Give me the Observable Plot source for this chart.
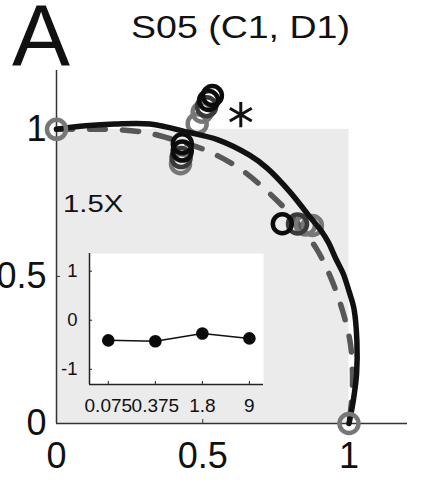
<!DOCTYPE html>
<html>
<head>
<meta charset="utf-8">
<script src="https://cdn.jsdelivr.net/npm/d3@7"></script>
<script src="https://cdn.jsdelivr.net/npm/@observablehq/plot@0.6"></script>
<style>
  html, body { margin: 0; padding: 0; background: white; }
  #wrap { position: relative; width: 444px; height: 487px; overflow: hidden; font-family: "Liberation Sans", Arial, Helvetica, sans-serif; color: #111; }
  #main { position: absolute; left: 0; top: 0; }
  #inset { position: absolute; left: 60px; top: 240px; }
  .lbl { position: absolute; line-height: 1; white-space: nowrap; transform-origin: 0 0; }
</style>
</head>
<body>
<div id="wrap">
  <div id="main"></div>
  <div id="inset"></div>
  <div class="lbl" id="panel" style="left:12px; top:-8px; font-size:87px;">A</div>
  <div class="lbl" id="title" style="left:131px; top:12px; font-size:31px; transform:scaleX(1.21);">S05 (C1, D1)</div>
  <div class="lbl" id="mult" style="left:63px; top:191.5px; font-size:24px; transform:scaleX(1.22);">1.5X</div>
</div>
<script>
// ---- data ----
const solidX = [0, 0.1, 0.2, 0.32, 0.45, 0.55, 0.66, 0.72, 0.80, 0.86, 0.905, 0.93, 0.955, 0.98, 1.0, 1.017, 1.027, 1.026, 1.015, 1.0];
const solidY = [1, 1.012, 1.018, 1.018, 0.99, 0.965, 0.912, 0.868, 0.785, 0.71, 0.655, 0.615, 0.56, 0.51, 0.45, 0.39, 0.28, 0.17, 0.08, 0];
const dashX = [0, 0.1, 0.18, 0.3, 0.4, 0.52, 0.63, 0.72, 0.8, 0.887, 0.938, 0.978, 1.005, 1.012, 1.008, 1.0];
const dashY = [1, 1.0, 1.0, 0.99, 0.965, 0.925, 0.864, 0.79, 0.71, 0.597, 0.495, 0.383, 0.27, 0.15, 0.07, 0];
const blackX = [0.533, 0.520, 0.430, 0.430, 0.772];
const blackY = [1.115, 1.098, 0.951, 0.926, 0.679];
const darkX = [0.513, 0.426, 0.824];
const darkY = [1.077, 0.904, 0.678];
const grayX = [0.498, 0.481, 0.424, 0.851, 0.875];
const grayY = [1.058, 1.019, 0.883, 0.675, 0.673];
const endX = [0, 1];
const endY = [1, 0];
const starX = [0.63];
const starY = [1.05];
const regionX = [0, 1];
const regionY = [0, 1];
const mainTicks = [0, 0.5, 1];
const mainDomain = [0, 1.2];

const doses = ["0.075", "0.375", "1.8", "9"];
const doseValues = [-0.41, -0.43, -0.27, -0.37];
const insetTicks = [-1, 0, 1];
const insetYDomain = [-1.31, 1.36];
const insetXDomain = [0.6, 4.3];

// ---- tables built from the arrays ----
const pts = (xs, ys) => xs.map((x, i) => ({x, y: ys[i]}));
const solid = pts(solidX, solidY);
const dash = pts(dashX, dashY);
const blackPts = pts(blackX, blackY);
const darkPts = pts(darkX, darkY);
const grayPts = pts(grayX, grayY);
const endPts = pts(endX, endY);
const star = pts(starX, starY);
const region = [{x1: regionX[0], x2: regionX[1], y1: regionY[0], y2: regionY[1]}];
const doseData = doses.map((d, i) => ({i: i + 1, dose: d, v: doseValues[i]}));

const FONT = '"Liberation Sans", Arial, Helvetica, sans-serif';
const ringR = 9.5, ringW = 4.5;

const main = Plot.plot({
  width: 444, height: 487,
  marginLeft: 56, marginRight: 37, marginTop: 70, marginBottom: 64,
  x: {domain: mainDomain, axis: null},
  y: {domain: mainDomain, axis: null},
  style: {background: "transparent", fontFamily: FONT, color: "#111"},
  marks: [
    Plot.rect(region, {x1: "x1", x2: "x2", y1: "y1", y2: "y2", fill: "#ebebeb"}),
    Plot.ruleX([mainDomain[0]], {y1: mainDomain[0], y2: mainDomain[1], stroke: "#333", strokeWidth: 1.5}),
    Plot.ruleY([mainDomain[0]], {x1: mainDomain[0], x2: mainDomain[1], stroke: "#333", strokeWidth: 1.5}),
    Plot.axisX({ticks: mainTicks, label: null, tickSize: -4, tickPadding: 23, fontSize: 36, stroke: "#333", fill: "#111", tickFormat: d => String(d)}),
    Plot.axisY({ticks: mainTicks, label: null, tickSize: -4, tickPadding: 14, fontSize: 36, stroke: "#333", fill: "#111", tickFormat: d => String(d)}),
    Plot.line(dash, {x: "x", y: "y", curve: "catmull-rom", stroke: "#575757", strokeWidth: 5.5, strokeDasharray: "16,17"}),
    Plot.dot(grayPts, {x: "x", y: "y", r: ringR, stroke: "#777", strokeWidth: ringW}),
    Plot.dot(darkPts, {x: "x", y: "y", r: ringR, stroke: "#3a3a3a", strokeWidth: ringW}),
    Plot.dot(blackPts, {x: "x", y: "y", r: ringR, stroke: "#0c0c0c", strokeWidth: ringW}),
    Plot.line(solid, {x: "x", y: "y", curve: "catmull-rom", stroke: "#111", strokeWidth: 5.5}),
    Plot.dot(endPts, {x: "x", y: "y", r: ringR, stroke: "#777", strokeWidth: ringW}),
    Plot.dot(star, {x: "x", y: "y", r: 12, symbol: "asterisk", stroke: "#111", strokeWidth: 3})
  ]
});
document.getElementById("main").appendChild(main);

const inset = Plot.plot({
  width: 220, height: 180,
  marginLeft: 29, marginRight: 17, marginTop: 13, marginBottom: 36,
  x: {domain: insetXDomain, axis: null},
  y: {domain: insetYDomain, axis: null},
  style: {background: "transparent", fontFamily: FONT, color: "#111"},
  marks: [
    Plot.frame({fill: "white", stroke: null}),
    Plot.ruleX([insetXDomain[0]], {y1: insetYDomain[0], y2: insetYDomain[1], stroke: "#222", strokeWidth: 1.5}),
    Plot.ruleY([insetYDomain[0]], {x1: insetXDomain[0], x2: insetXDomain[1], stroke: "#222", strokeWidth: 1.5}),
    Plot.axisY({ticks: insetTicks, label: null, tickSize: -3, tickPadding: 15, fontSize: 18.5, stroke: "#222", fill: "#111", tickFormat: d => String(d)}),
    Plot.axisX({ticks: doseData.map(d => d.i), label: null, tickSize: -3, tickPadding: 17, fontSize: 19, stroke: "#222", fill: "#111", tickFormat: i => doses[i - 1]}),
    Plot.line(doseData, {x: "i", y: "v", stroke: "#111", strokeWidth: 1.5}),
    Plot.dot(doseData, {x: "i", y: "v", r: 6.3, fill: "#0a0a0a", stroke: "none"})
  ]
});
document.getElementById("inset").appendChild(inset);
</script>
</body>
</html>
